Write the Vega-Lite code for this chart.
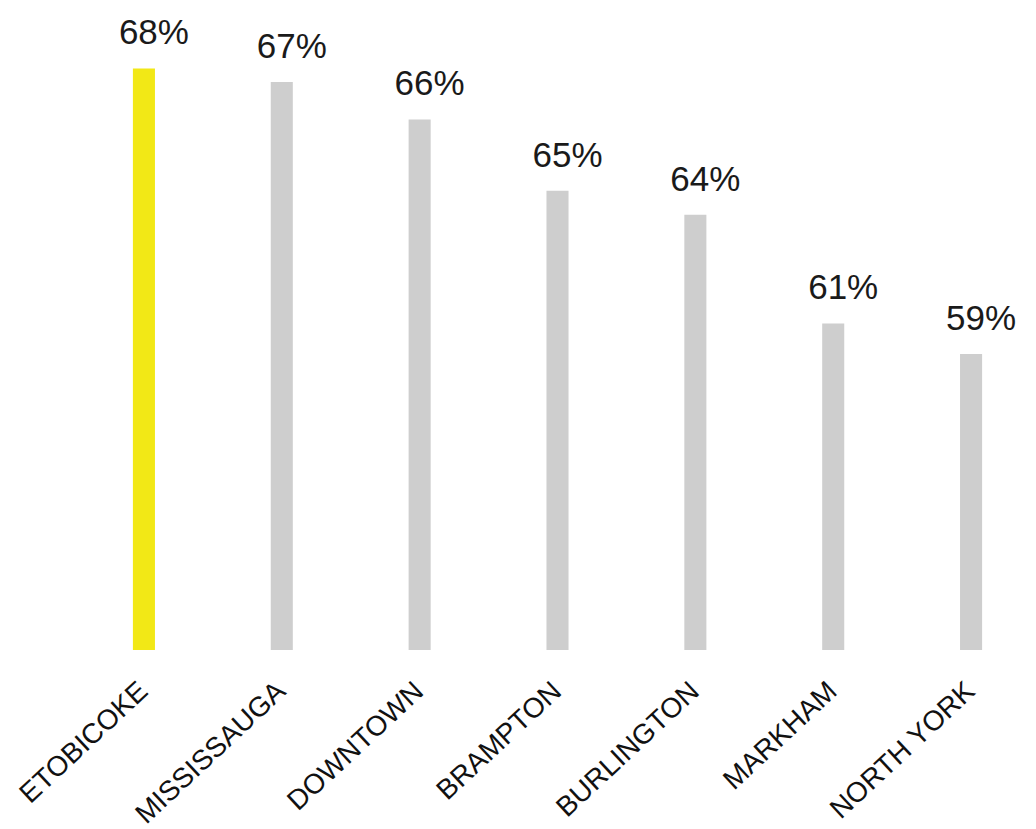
{
  "$schema": "https://vega.github.io/schema/vega-lite/v6.json",
  "autosize": {"type": "none"},
  "padding": {"left": 75, "top": 31, "right": 0, "bottom": 179},
  "width": 965,
  "height": 619,
  "background": "#ffffff",
  "config": {"view": {"stroke": null}, "font": "Liberation Sans"},
  "data": {
    "values": [
      {"city": "ETOBICOKE", "value": 67.9, "label": "68%"},
      {"city": "MISSISSAUGA", "value": 67.5, "label": "67%"},
      {"city": "DOWNTOWN", "value": 66.4, "label": "66%"},
      {"city": "BRAMPTON", "value": 64.3, "label": "65%"},
      {"city": "BURLINGTON", "value": 63.6, "label": "64%"},
      {"city": "MARKHAM", "value": 60.4, "label": "61%"},
      {"city": "NORTH YORK", "value": 59.5, "label": "59%"}
    ]
  },
  "encoding": {
    "x": {
      "field": "city",
      "type": "nominal",
      "sort": null,
      "scale": {"paddingInner": 0.84, "paddingOuter": 0.42},
      "axis": {
        "title": null,
        "domain": false,
        "ticks": false,
        "labelAngle": -43,
        "labelAlign": "right",
        "labelBaseline": "middle",
        "labelPadding": 37,
        "labelFontSize": 28,
        "labelFont": "Liberation Sans",
        "labelColor": "#111111",
        "labelOverlap": false,
        "labelLimit": 400
      }
    },
    "y": {
      "field": "value",
      "type": "quantitative",
      "scale": {"domain": [50.8, 69], "zero": false, "nice": false},
      "axis": null
    }
  },
  "layer": [
    {
      "mark": {"type": "bar", "clip": false},
      "encoding": {
        "y2": {"datum": 50.8},
        "color": {
          "condition": {"test": "datum.city === 'ETOBICOKE'", "value": "#F2E816"},
          "value": "#CECECE"
        }
      }
    },
    {
      "mark": {
        "type": "text",
        "fontSize": 35,
        "font": "Liberation Sans",
        "color": "#1a1a1a",
        "baseline": "alphabetic",
        "dy": -24,
        "dx": 10
      },
      "encoding": {"text": {"field": "label"}}
    }
  ]
}
